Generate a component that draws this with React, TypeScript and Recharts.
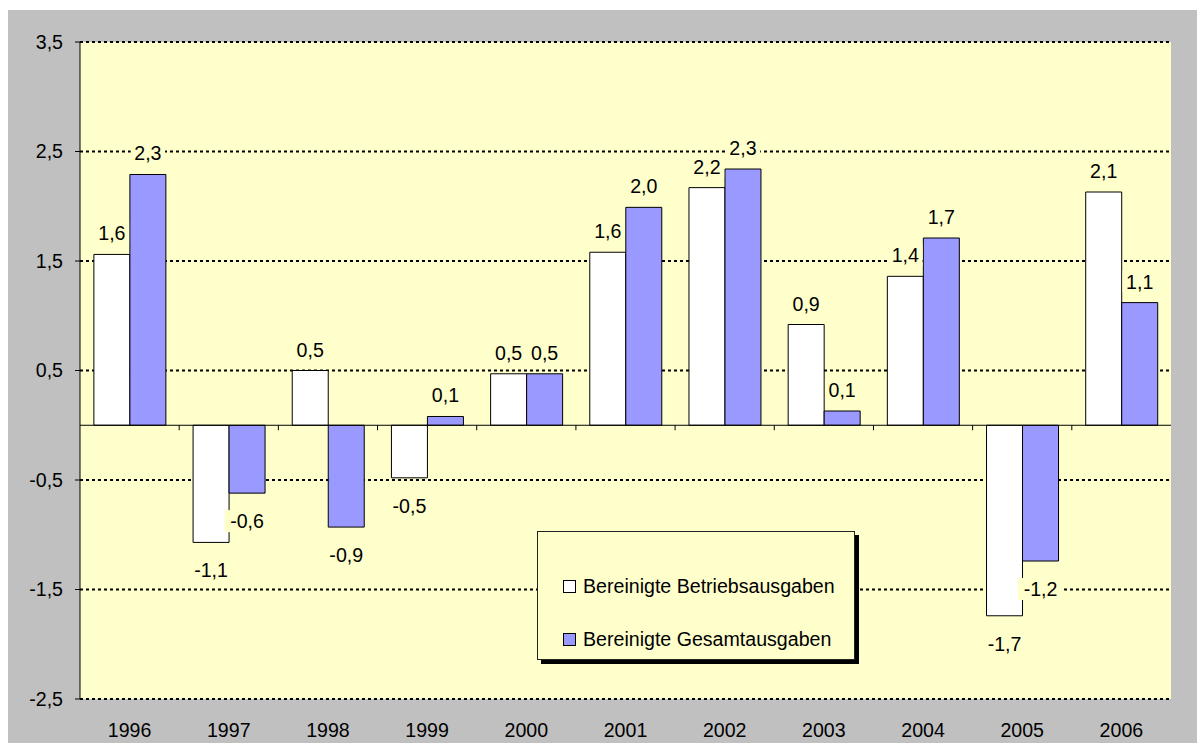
import React from 'react';
import { BarChart, Bar, XAxis, YAxis, CartesianGrid, ReferenceLine, LabelList, Legend } from 'recharts';

const years = ['1996', '1997', '1998', '1999', '2000', '2001', '2002', '2003', '2004', '2005', '2006'];
const betriebsausgaben = [1.56, -1.07, 0.5, -0.48, 0.47, 1.58, 2.17, 0.92, 1.36, -1.74, 2.13];
const gesamtausgaben = [2.29, -0.62, -0.93, 0.08, 0.47, 1.99, 2.34, 0.13, 1.71, -1.24, 1.12];
const yTicks = [3.5, 2.5, 1.5, 0.5, -0.5, -1.5, -2.5];
const seriesNames = ['Bereinigte Betriebsausgaben', 'Bereinigte Gesamtausgaben'];

const data = years.map((year, i) => ({
  year,
  betrieb: betriebsausgaben[i],
  gesamt: gesamtausgaben[i],
}));

const FONT = '"Liberation Sans", Arial, sans-serif';
const FS = 19.6;
const PLOT_BG = '#ffffcc';
const fmt = (v: number) => (Math.round(v * 10) / 10).toFixed(1).replace('.', ',');

const renderLabel = (props: any) => {
  const { x, y, width, height, value } = props;
  const v = Number(value);
  const top = Math.min(y, y + height);
  const bottom = Math.max(y, y + height);
  const cx = x + width / 2;
  const cy = v >= 0 ? top - 21 : bottom + 28;
  const text = fmt(v);
  const w = text.length * 10.8 + 2;
  return (
    <g>
      <rect x={cx - w / 2} y={cy - 11} width={w} height={22} fill={PLOT_BG} />
      <text x={cx} y={cy} textAnchor="middle" dominantBaseline="central" fontFamily={FONT} fontSize={FS} fill="#000">
        {text}
      </text>
    </g>
  );
};

const XTick = (props: any) => {
  const { x, y, payload } = props;
  return (
    <text x={x} y={y + 38} textAnchor="middle" fontFamily={FONT} fontSize={FS} fill="#000">
      {payload.value}
    </text>
  );
};

const LegendBox = (props: any) => {
  const payload = props.payload || [];
  return (
    <div
      style={{
        boxSizing: 'border-box',
        width: '100%',
        height: '100%',
        background: PLOT_BG,
        border: '1px solid #222',
        boxShadow: '4px 4px 0 #000',
        position: 'relative',
        fontFamily: FONT,
        fontSize: FS,
        color: '#000',
      }}
    >
      {payload.map((entry: any, i: number) => (
        <div
          key={i}
          style={{
            position: 'absolute',
            left: 25,
            top: 43 + i * 53,
            height: 22,
            display: 'flex',
            alignItems: 'center',
            whiteSpace: 'nowrap',
          }}
        >
          <span
            style={{
              display: 'inline-block',
              width: 11,
              height: 11,
              background: entry.color,
              border: '1px solid #000',
              marginRight: 7,
            }}
          />
          <span>{entry.value}</span>
        </div>
      ))}
    </div>
  );
};

export default function App() {
  return (
    <div
      style={{
        position: 'fixed',
        left: 8,
        top: 10,
        width: 1189,
        height: 733,
        background: '#c0c0c0',
        overflow: 'hidden',
      }}
    >
      <BarChart
        width={1189}
        height={733}
        data={data}
        margin={{ top: 32, right: 26, left: 0, bottom: 0 }}
        barCategoryGap="14%"
        barGap={0}
      >
        <CartesianGrid
          vertical={false}
          horizontal={true}
          fill={PLOT_BG}
          fillOpacity={1}
          stroke="#000"
          strokeWidth={2}
          strokeDasharray="3 3"
        />
        <XAxis
          dataKey="year"
          height={44}
          axisLine={false}
          tickLine={false}
          tickSize={0}
          tickMargin={0}
          tick={<XTick />}
          interval={0}
        />
        <YAxis
          width={72}
          domain={[-2.5, 3.5]}
          ticks={yTicks}
          interval={0}
          tickFormatter={fmt}
          axisLine={{ stroke: '#000', strokeWidth: 1 }}
          tickLine={{ stroke: '#000', strokeWidth: 1 }}
          tickSize={5}
          tickMargin={12}
          tick={{ fontFamily: FONT, fontSize: FS, fill: '#000' }}
          allowDataOverflow
        />
        <Bar dataKey="betrieb" name={seriesNames[0]} fill="#ffffff" stroke="#000" strokeWidth={1} isAnimationActive={false}>
          <LabelList dataKey="betrieb" content={renderLabel} />
        </Bar>
        <Bar dataKey="gesamt" name={seriesNames[1]} fill="#9999ff" stroke="#000" strokeWidth={1} isAnimationActive={false}>
          <LabelList dataKey="gesamt" content={renderLabel} />
        </Bar>
        <ReferenceLine y={0} stroke="#000" strokeWidth={1} ifOverflow="extendDomain" />
        {years.slice(1).map((yr) => (
          <ReferenceLine
            key={'t' + yr}
            segment={[{ x: yr, y: 0 }, { x: yr, y: -0.046 }]}
            position="start"
            stroke="#000"
            strokeWidth={1}
          />
        ))}
        <ReferenceLine
          segment={[{ x: years[years.length - 1], y: 0 }, { x: years[years.length - 1], y: -0.046 }]}
          position="end"
          stroke="#000"
          strokeWidth={1}
        />
        <Legend
          layout="horizontal"
          verticalAlign="middle"
          align="center"
          content={<LegendBox />}
          wrapperStyle={{ position: 'absolute', left: 529, top: 521, width: 318, height: 129 }}
        />
      </BarChart>
    </div>
  );
}
